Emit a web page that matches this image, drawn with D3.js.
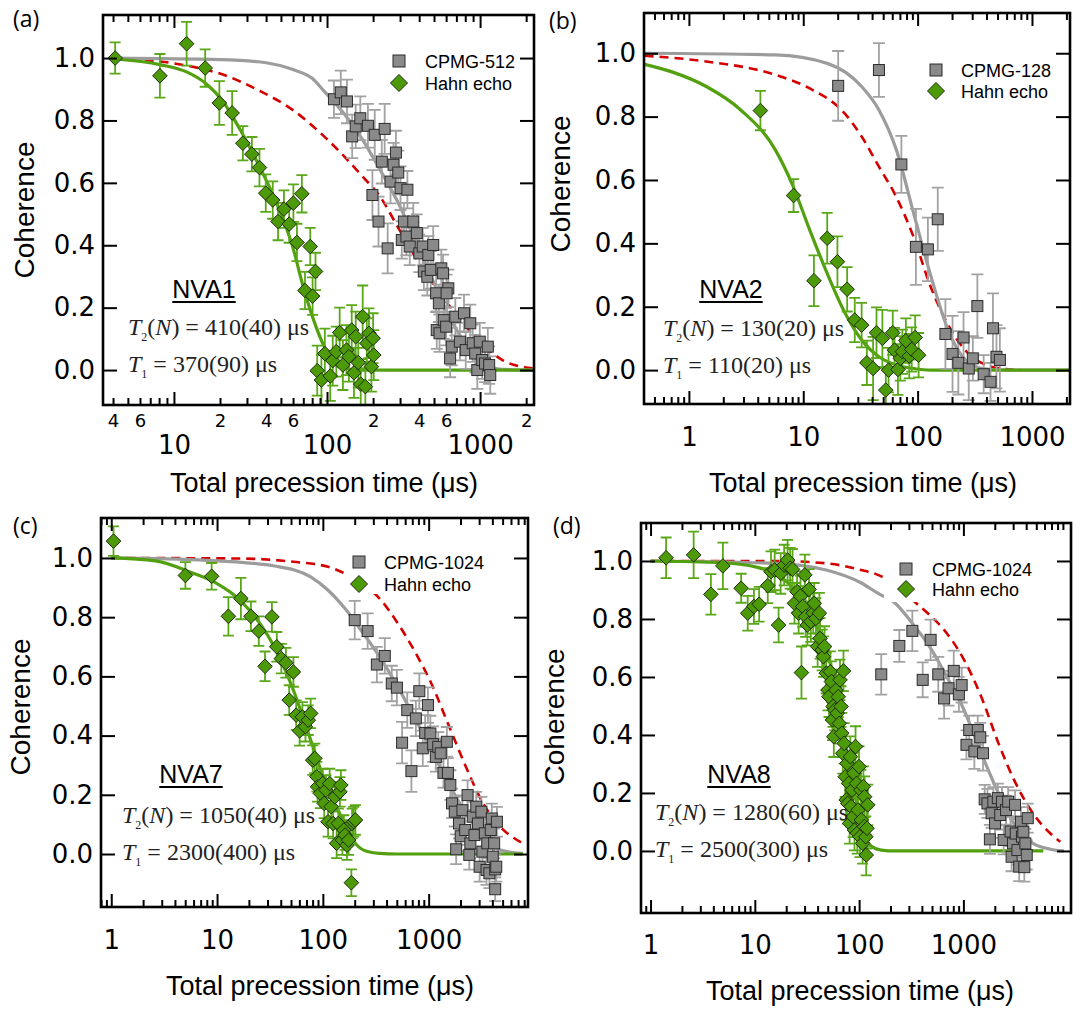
<!DOCTYPE html>
<html><head><meta charset="utf-8">
<script src="https://cdn.jsdelivr.net/npm/d3@7"></script>
<style>body{margin:0;background:#fff}svg{display:block}</style>
</head><body>
<svg id="fig" width="1073" height="1009"></svg>
<script>
// ---------- shared tick values ----------
const yTicks = [0, 0.2, 0.4, 0.6, 0.8, 1.0];
const xMajorA = [10, 100, 1000];
const xMinorLabelA = [4, 6, 20, 40, 60, 200, 400, 600, 2000];
const xMajorB = [1, 10, 100, 1000];
const xMajorC = [1, 10, 100, 1000];
const xMajorD = [1, 10, 100, 1000];

// ---------- panel (a) NVA1 : [t (us), coherence, error] ----------
const aHahn = [[4.13,1.0,0.05],[8.1,0.943,0.07],[12.1,1.046,0.07],[16.0,0.968,0.06],[19.8,0.856,0.07],[24.0,0.824,0.07],[28.2,0.727,0.055],[32.3,0.692,0.055],[36.2,0.649,0.06],[39.8,0.567,0.06],[44.2,0.545,0.06],[47.9,0.476,0.06],[52.3,0.516,0.06],[56.6,0.468,0.06],[60.3,0.535,0.06],[63.6,0.409,0.06],[68.5,0.565,0.06],[71.8,0.255,0.06],[77.7,0.396,0.06],[80.5,0.237,0.06],[84.1,0.316,0.06],
[86.3,-0.002,0.08],[91.9,-0.032,0.08],[96.8,0.053,0.08],[105,-0.019,0.08],[109,0.03,0.08],[115,0.059,0.08],[121,0.12,0.08],[127,0.016,0.08],[134,0.064,0.08],[139,0.043,0.08],[145,0.128,0.08],[150,-0.009,0.08],[154,0.107,0.08],[160,0.024,0.08],[166,-0.045,0.08],[171,0.171,0.1],[178,-0.053,0.08],[182,0.086,0.08],[188,0.118,0.08],[195,0.011,0.08],[200,0.102,0.08],[202,0.048,0.08]];
const aCpmg = [[111,0.868,0.06],[123,0.89,0.07],[135,0.861,0.07],[146,0.749,0.07],[154,0.781,0.07],[165,0.807,0.07],[185,0.783,0.07],[205,0.754,0.08],[238,0.773,0.08],[198,0.561,0.08],[217,0.476,0.08],[228,0.668,0.07],[249,0.39,0.08],[260,0.604,0.07],[272,0.658,0.07],[282,0.697,0.07],[292,0.633,0.07],[302,0.583,0.07],[335,0.578,0.06],[318,0.476,0.06],[308,0.417,0.06],[330,0.428,0.06],[347,0.396,0.06],[366,0.476,0.06],[386,0.439,0.06],[401,0.374,0.06],[422,0.396,0.06],[459,0.369,0.06],[494,0.401,0.06],[429,0.316,0.06],[452,0.299,0.06],[476,0.321,0.06],[516,0.246,0.06],[538,0.214,0.06],[558,0.326,0.06],[573,0.31,0.06],[620,0.262,0.06],[604,0.246,0.06],[521,0.128,0.06],[543,0.118,0.06],[579,0.16,0.06],[600,0.139,0.06],[637,0.037,0.06],[653,0.075,0.06],[689,0.171,0.06],[738,0.091,0.06],[785,0.182,0.06],[806,0.064,0.06],[863,0.15,0.06],[895,0.086,0.06],[929,0.053,0.06],[959,0.0,0.06],[995,0.091,0.06],[1032,0.032,0.06],[1077,0.021,0.06],[1123,0.075,0.06],[1146,0.016,0.06],[1165,-0.016,0.06]];
const aFitCpmg = [[4.1,1.0],[20,0.995],[40,0.985],[60,0.963],[80,0.935],[96,0.893],[131,0.818],[171,0.738],[222,0.642],[289,0.54],[376,0.417],[489,0.289],[637,0.166],[827,0.075],[1077,0.021],[1400,0.002],[2250,0]];
const aFitHahn = [[4.1,0.997],[8.1,0.979],[12.3,0.954],[16,0.92],[20.9,0.861],[27.1,0.77],[35.3,0.663],[45.9,0.545],[59.6,0.396],[69.9,0.267],[81.8,0.16],[95.9,0.075],[112,0.021],[131,0.005],[171,0],[2250,0]];
const aModel = [[4.1,0.997],[8.1,0.989],[13,0.973],[20.9,0.947],[35.3,0.898],[59.6,0.834],[101,0.738],[171,0.62],[222,0.556],[289,0.46],[376,0.364],[637,0.203],[1077,0.075],[1400,0.032],[2060,0.007],[2250,0.004]];

// ---------- panel (b) NVA2 ----------
const bHahn = [[4.22,0.819,0.062],[8.23,0.551,0.052],[12.4,0.282,0.08],[16.2,0.416,0.08],[19.9,0.342,0.08],[24.2,0.255,0.07],[28.2,0.158,0.07],[32.4,0.142,0.07],[36,0.023,0.07],[40.8,0.005,0.1],[43.7,0.118,0.08],[49.2,0.1,0.09],[52.7,-0.063,0.07],[55.7,0.0,0.07],[60.6,0.118,0.07],[62.8,0.063,0.07],[67.3,0.002,0.08],[70.6,0.037,0.07],[73.6,0.058,0.07],[78.9,0.093,0.07],[84.5,0.044,0.07],[88.8,0.065,0.07],[95.2,0.103,0.07],[102,0.047,0.07]];
const bCpmg = [[20.2,0.897,0.11],[45.9,0.947,0.085],[72.1,0.649,0.09],[96.6,0.389,0.12],[123,0.381,0.1],[150,0.476,0.1],[175,0.114,0.11],[202,0.051,0.12],[227,0.023,0.1],[252,0.103,0.08],[280,0.005,0.1],[304,0.037,0.07],[333,0.202,0.1],[378,-0.013,0.06],[434,-0.037,0.06],[456,0.132,0.11],[489,0.042,0.1],[524,0.032,0.1]];
const bFitCpmg = [[0.41,1.0],[5.7,0.995],[16.2,0.968],[32.4,0.895],[45.9,0.821],[65.2,0.695],[92.3,0.495],[131,0.295],[185,0.126],[262,0.032],[371,0.005],[600,0],[2150,0]];
const bFitHahn = [[0.41,0.965],[0.7,0.942],[1.42,0.895],[2.84,0.821],[5.7,0.695],[8.07,0.584],[11.4,0.442],[16.2,0.305],[22.9,0.184],[32.4,0.095],[45.9,0.042],[65,0.016],[92,0.005],[130,0],[2150,0]];
const bModel = [[0.41,0.992],[1.42,0.974],[5.7,0.932],[11.4,0.889],[22.9,0.811],[32.4,0.737],[45.9,0.642],[65,0.547],[92,0.421],[130,0.263],[185,0.142],[261,0.063],[370,0.021],[524,0.005],[800,0]];

// ---------- panel (c) NVA7 ----------
const cHahn = [[1.05,1.057,0.05],[5.02,0.941,0.045],[8.89,0.938,0.045],[12.8,0.803,0.065],[16.8,0.863,0.07],[20.9,0.803,0.05],[24.8,0.753,0.05],[28.4,0.634,0.05],[33,0.801,0.05],[36.7,0.7,0.05],[40.5,0.66,0.05],[44.7,0.646,0.05],[48.1,0.52,0.05],[52.7,0.615,0.05],[56,0.469,0.05],[60.3,0.416,0.05],[64,0.463,0.05],[68.5,0.43,0.05],[72.8,0.452,0.05],[76.7,0.475,0.05],[80.2,0.317,0.05],[83.9,0.323,0.05],[87.8,0.261,0.05],[89.1,0.227,0.05],[94.6,0.205,0.05],[99.8,0.238,0.05],[103,0.171,0.05],[107,0.216,0.05],[112,0.109,0.05],[116,0.238,0.05],[120,0.16,0.05],[125,0.103,0.05],[130,0.193,0.05],[135,0.036,0.05],[140,0.103,0.05],[145,0.21,0.05],[148,0.233,0.05],[153,0.047,0.05],[158,0.081,0.05],[162,0.064,0.05],[169,0.03,0.05],[175,0.047,0.05],[186,-0.097,0.045],[189,0.103,0.05],[196,0.109,0.05],[203,0.115,0.05]];
const cCpmg = [[200,0.79,0.065],[265,0.753,0.06],[324,0.64,0.06],[385,0.669,0.06],[448,0.576,0.06],[501,0.562,0.06],[561,0.376,0.07],[628,0.486,0.06],[687,0.28,0.07],[757,0.458,0.06],[816,0.55,0.06],[880,0.357,0.06],[927,0.409,0.06],[985,0.503,0.06],[1038,0.407,0.06],[1102,0.371,0.06],[1170,0.328,0.05],[1233,0.362,0.05],[1300,0.34,0.05],[1380,0.274,0.05],[1486,0.379,0.05],[1521,0.274,0.05],[1603,0.233,0.05],[1663,0.171,0.05],[1766,0.143,0.05],[1820,0.016,0.05],[1935,0.103,0.05],[2008,0.06,0.05],[2085,0.148,0.05],[2214,0.081,0.05],[2334,0.199,0.05],[2422,-0.003,0.05],[2478,0.036,0.05],[2612,0.126,0.05],[2710,0.064,0.05],[2818,0.16,0.05],[2924,0.103,0.05],[3034,-0.043,0.05],[3152,0.143,0.05],[3221,0.008,0.05],[3396,0.07,0.05],[3524,-0.054,0.05],[3580,0.036,0.05],[3748,-0.065,0.05],[3864,0.081,0.05],[3949,0.12,0.05],[4040,-0.009,0.05],[4160,0.036,0.05],[4254,-0.052,0.05],[4354,-0.043,0.05],[4418,0.109,0.05],[4254,-0.119,0.04]];
const cFitCpmg = [[1,1.0],[8.06,0.992],[36.2,0.972],[76.7,0.936],[112,0.891],[162,0.829],[236,0.75],[344,0.666],[501,0.57],[729,0.463],[1061,0.351],[1545,0.238],[2248,0.137],[3272,0.058],[4761,0.013],[7760,0.002]];
const cFitHahn = [[1,1.0],[2.61,0.99],[5.53,0.953],[9.36,0.919],[17.1,0.852],[24.8,0.784],[36.2,0.688],[52.7,0.553],[76.7,0.385],[112,0.216],[162,0.103],[203,0.036],[255,0.01],[344,0.002],[500,0],[7760,0]];
const cModel = [[1,1.0],[17,0.998],[52.7,0.987],[112,0.97],[162,0.947],[236,0.913],[344,0.863],[501,0.784],[729,0.688],[1061,0.576],[1545,0.435],[2248,0.295],[3272,0.171],[4761,0.092],[7760,0.036]];

// ---------- panel (d) NVA8 ----------
const dHahn = [[1.41,1.011,0.07],[2.59,1.021,0.08],[3.79,0.885,0.07],[4.94,0.983,0.08],[7.39,0.906,0.05],[8.55,0.82,0.06],[9.8,0.843,0.06],[11,0.851,0.06],[13.3,0.915,0.06],[14.3,0.963,0.07],[15.5,0.969,0.07],[16.9,0.779,0.06],[17.7,0.957,0.07],[19.1,0.986,0.07],[20.6,1.003,0.07],[21.8,0.975,0.07],[23,0.971,0.07],[24,0.854,0.07],[25.4,0.894,0.07],[26.3,0.82,0.07],[27.4,0.879,0.07],[28,0.615,0.09],[28.8,0.843,0.07],[30.2,0.952,0.07],[30.7,0.808,0.07],[31.9,0.779,0.07],[33.1,0.902,0.07],[34.4,0.791,0.07],[36.3,0.82,0.07],[37.1,0.854,0.07],[38.5,0.802,0.07],[40,0.705,0.07],[41.6,0.82,0.07],[42.2,0.733,0.07],[44.2,0.693,0.07],[45.5,0.67,0.07],[46.6,0.705,0.07],[48.4,0.613,0.07],[50.3,0.555,0.07],[51.4,0.532,0.07],[53,0.618,0.07],[54.2,0.584,0.07],[55.5,0.452,0.07],[56.3,0.498,0.07],[57.2,0.394,0.07],[58.5,0.486,0.07],[59.9,0.555,0.07],[61.7,0.475,0.07],[63.1,0.532,0.07],[64.6,0.44,0.07],[65.6,0.59,0.07],[67.1,0.498,0.07],[68.2,0.406,0.07],[69.7,0.337,0.07],[70.8,0.621,0.07],[71.9,0.371,0.07],[73.6,0.256,0.07],[75.2,0.176,0.07],[76.4,0.302,0.07],[77.6,0.164,0.07],[79.4,0.233,0.07],[81.1,0.095,0.07],[82.4,0.325,0.07],[83.7,0.153,0.07],[85.6,0.21,0.07],[87.6,0.118,0.07],[89,0.268,0.07],[90.3,0.072,0.07],[92.4,0.36,0.07],[94.6,0.233,0.07],[96,0.061,0.07],[97.5,0.141,0.07],[99.8,0.291,0.07],[102,0.049,0.07],[104,0.21,0.07],[105,0.107,0.07],[108,0.026,0.07],[110,0.222,0.07],[112,0.084,0.07],[113,0.187,0.07],[116,0.049,0.07],[117,-0.014,0.07],[119,0.078,0.07],[121,0.159,0.07]];
const dCpmg = [[163,0.609,0.07],[243,0.707,0.055],[324,0.759,0.07],[407,0.59,0.06],[485,0.728,0.07],[574,0.609,0.06],[653,0.526,0.07],[720,0.561,0.06],[808,0.621,0.07],[905,0.54,0.06],[962,0.572,0.06],[1070,0.366,0.05],[1137,0.417,0.05],[1274,0.343,0.06],[1374,0.417,0.05],[1451,0.392,0.05],[1542,0.337,0.06],[1600,0.178,0.05],[1701,0.164,0.05],[1795,0.04,0.05],[1865,0.13,0.05],[1937,0.17,0.05],[2012,0.095,0.05],[2138,0.182,0.05],[2255,0.124,0.05],[2342,0.17,0.05],[2432,0.038,0.05],[2565,0.141,0.05],[2686,0.17,0.05],[2833,0.067,0.05],[2899,-0.02,0.05],[2988,0.026,0.05],[3127,0.159,0.05],[3177,0.06,0.05],[3298,0.003,0.05],[3427,-0.054,0.05],[3558,0.101,0.05],[3641,0.049,0.05],[3757,0.066,0.05],[3839,-0.056,0.05],[3928,0.026,0.05],[4048,-0.014,0.05],[4142,0.113,0.05]];
const dFitCpmg = [[1,1.0],[15.5,0.992],[48.4,0.969],[104,0.925],[151,0.889],[222,0.854],[324,0.785],[474,0.705],[693,0.601],[1014,0.486],[1483,0.337],[2171,0.199],[3176,0.084],[4645,0.026],[6795,0.006],[9208,0]];
const dFitHahn = [[1,1.0],[4.94,0.994],[10.6,0.978],[15.5,0.957],[22.6,0.911],[33.1,0.82],[48.4,0.693],[60.8,0.555],[70.8,0.417],[82.4,0.279],[96,0.153],[112,0.061],[130,0.017],[163,0.003],[222,0],[5840,0]];
const dModel = [[1,1.0],[15.5,1.0],[48.4,0.992],[104,0.969],[151,0.952],[222,0.92],[324,0.866],[474,0.814],[693,0.751],[1014,0.659],[1483,0.532],[2171,0.371],[3176,0.233],[4645,0.13],[6795,0.061],[8500,0.032]];

// ---------- text ----------
const panelLetters = ["(a)", "(b)", "(c)", "(d)"];
const sampleNames = ["NVA1", "NVA2", "NVA7", "NVA8"];
const t2Values = ["410(40)", "130(20)", "1050(40)", "1280(60)"];
const t1Values = ["370(90)", "110(20)", "2300(400)", "2500(300)"];
const cpmgNames = ["CPMG-512", "CPMG-128", "CPMG-1024", "CPMG-1024"];
const hahnName = "Hahn echo";
const yTitle = "Coherence";
const xTitle = "Total precession time (\u03bcs)";

// ---------- layout ----------
const panels = [
  {id:0, x0:103, x1:534, y0:15, y1:405, xd:[3.44,2250], yd:[-0.112,1.138], major:xMajorA, minorLab:xMinorLabelA,
   hahn:aHahn, cpmg:aCpmg, fitC:aFitCpmg, fitH:aFitHahn, model:aModel,
   padB:31, yLabX:24, yLabY:210, xLabX:324, xLabY:492, letter:[13,27],
   leg:{sx:399, sy:61, dy:22, tx:425, bg:[388,47,134,50]}, nva:[204,298], form:[128,335,372]},
  {id:1, x0:644, x1:1070, y0:13, y1:404, xd:[0.405,2150], yd:[-0.107,1.127], major:xMajorB, minorLab:null,
   hahn:bHahn, cpmg:bCpmg, fitC:bFitCpmg, fitH:bFitHahn, model:bModel,
   padB:24, yLabX:560, yLabY:184, xLabX:863, xLabY:492, letter:[549,29],
   leg:{sx:936, sy:70, dy:21, tx:961, bg:[925,56,130,48]}, nva:[731,298], form:[663,336,373]},
  {id:2, x0:101, x1:528, y0:518, y1:907, xd:[0.80,8690], yd:[-0.179,1.135], major:xMajorC, minorLab:null,
   hahn:cHahn, cpmg:cCpmg, fitC:cFitCpmg, fitH:cFitHahn, model:cModel,
   padB:24, yLabX:20, yLabY:707, xLabX:320, xLabY:995, letter:[13,534],
   leg:{sx:359, sy:562, dy:22, tx:384, bg:[344,546,150,48]}, nva:[191,783], form:[122,823,860]},
  {id:3, x0:641, x1:1071, y0:523, y1:913, xd:[0.81,10760], yd:[-0.214,1.131], major:xMajorD, minorLab:null,
   hahn:dHahn, cpmg:dCpmg, fitC:dFitCpmg, fitH:dFitHahn, model:dModel,
   padB:23, yLabX:554, yLabY:717, xLabX:860, xLabY:1000, letter:[553,534],
   leg:{sx:906, sy:569, dy:20, tx:932, bg:[884,552,160,50]}, nva:[739,783], form:[655,820,857]}
];

const svg = d3.select("#fig");
const GREEN = "#4d9a08", GREEN_ERR = "#5aa818", GREEN_LINE = "#52a00f";
const GRAY = "#8a8a8a", GRAY_ERR = "#a2a2a2", GRAY_LINE = "#9c9c9c";
const RED = "#d40000";
const TICKFONT = "'DejaVu Sans', Verdana, sans-serif";
const SANS = "'Liberation Sans', Arial, Helvetica, sans-serif";
const SERIF = "'Liberation Serif', 'Times New Roman', serif";

function minorValues(dom) {
  const out = [];
  for (let e = Math.floor(Math.log10(dom[0])); e <= Math.ceil(Math.log10(dom[1])); e++) {
    for (let k = 2; k <= 9; k++) {
      const v = k * Math.pow(10, e);
      if (v >= dom[0] && v <= dom[1]) out.push(v);
    }
  }
  return out;
}
const diamond = r => `M0,${-r}L${r},0L0,${r}L${-r},0Z`;

panels.forEach((p, i) => {
  const g = svg.append("g");
  const x = d3.scaleLog().domain(p.xd).range([p.x0, p.x1]);
  const y = d3.scaleLinear().domain(p.yd).range([p.y1, p.y0]);

  svg.append("clipPath").attr("id", "clip" + i).append("rect")
    .attr("x", p.x0).attr("y", p.y0).attr("width", p.x1 - p.x0).attr("height", p.y1 - p.y0);
  const plot = g.append("g").attr("clip-path", `url(#clip${i})`);
  const line = d3.line().x(d => x(d[0])).y(d => y(d[1])).curve(d3.curveMonotoneX);

  plot.append("path").datum(p.model).attr("d", line).attr("fill", "none")
    .attr("stroke", RED).attr("stroke-width", 2.6).attr("stroke-dasharray", "9,6");
  plot.append("path").datum(p.fitC).attr("d", line).attr("fill", "none")
    .attr("stroke", GRAY_LINE).attr("stroke-width", 3.2);
  plot.append("path").datum(p.fitH).attr("d", line).attr("fill", "none")
    .attr("stroke", GREEN_LINE).attr("stroke-width", 3.2);

  // legend background
  g.append("rect").attr("x", p.leg.bg[0]).attr("y", p.leg.bg[1]).attr("width", p.leg.bg[2]).attr("height", p.leg.bg[3]).attr("fill", "#fff");

  function errorBars(data, color, cap) {
    const eg = plot.append("g").attr("stroke", color).attr("stroke-width", 1.8).attr("fill", "none");
    eg.selectAll("path").data(data).join("path").attr("d", d => {
      const xx = x(d[0]), ya = y(d[1] - d[2]), yb = y(d[1] + d[2]);
      return `M${xx},${ya}V${yb}M${xx - cap},${ya}H${xx + cap}M${xx - cap},${yb}H${xx + cap}`;
    });
  }
  errorBars(p.cpmg, GRAY_ERR, 6);
  plot.append("g").selectAll("rect").data(p.cpmg).join("rect")
    .attr("x", d => x(d[0]) - 5.5).attr("y", d => y(d[1]) - 5.5).attr("width", 11).attr("height", 11)
    .attr("fill", GRAY).attr("stroke", "#2b2b2b").attr("stroke-width", 1);
  errorBars(p.hahn, GREEN_ERR, 5.5);
  plot.append("g").selectAll("path").data(p.hahn).join("path")
    .attr("d", diamond(7.3)).attr("transform", d => `translate(${x(d[0])},${y(d[1])})`)
    .attr("fill", GREEN).attr("stroke", "#1e2a10").attr("stroke-width", 1);

  // axes
  const styleAxis = sel => { sel.select(".domain").remove(); sel.selectAll("line").attr("stroke", "#000").attr("stroke-width", 2); };
  const mins = minorValues(p.xd);
  g.append("g").attr("transform", `translate(0,${p.y1})`)
    .call(d3.axisBottom(x).tickValues(p.major).tickSize(-13).tickPadding(p.padB).tickFormat(d3.format("d")))
    .call(styleAxis).attr("font-family", TICKFONT).attr("font-size", 26);
  g.append("g").attr("transform", `translate(0,${p.y1})`)
    .call(d3.axisBottom(x).tickValues(mins).tickSize(-7).tickFormat(""))
    .call(styleAxis);
  if (p.minorLab) {
    g.append("g").attr("transform", `translate(0,${p.y1})`)
      .call(d3.axisBottom(x).tickValues(p.minorLab).tickSize(0).tickPadding(9).tickFormat(d => String(d).charAt(0)))
      .call(styleAxis).attr("font-family", TICKFONT).attr("font-size", 18);
  }
  g.append("g").attr("transform", `translate(0,${p.y0})`)
    .call(d3.axisTop(x).tickValues(p.major).tickSize(-13).tickFormat(""))
    .call(styleAxis);
  g.append("g").attr("transform", `translate(0,${p.y0})`)
    .call(d3.axisTop(x).tickValues(mins).tickSize(-7).tickFormat(""))
    .call(styleAxis);
  g.append("g").attr("transform", `translate(${p.x0},0)`)
    .call(d3.axisLeft(y).tickValues(yTicks).tickSize(-14).tickPadding(8).tickFormat(d3.format(".1f")))
    .call(styleAxis).attr("font-family", TICKFONT).attr("font-size", 26);
  g.append("g").attr("transform", `translate(${p.x1},0)`)
    .call(d3.axisRight(y).tickValues(yTicks).tickSize(-14).tickFormat(""))
    .call(styleAxis);
  g.selectAll(".tick text").attr("fill", "#000");

  g.append("rect").attr("x", p.x0).attr("y", p.y0).attr("width", p.x1 - p.x0).attr("height", p.y1 - p.y0)
    .attr("fill", "none").attr("stroke", "#000").attr("stroke-width", 2.6);

  // titles
  g.append("text").attr("x", p.xLabX).attr("y", p.xLabY).attr("text-anchor", "middle")
    .attr("font-family", SANS).attr("font-size", 27).text(xTitle);
  g.append("text").attr("transform", `translate(${p.yLabX},${p.yLabY}) rotate(-90)`)
    .attr("text-anchor", "middle").attr("dominant-baseline", "central")
    .attr("font-family", SANS).attr("font-size", 28).text(yTitle);
  g.append("text").attr("x", p.letter[0]).attr("y", p.letter[1])
    .attr("font-family", "'Open Sans', sans-serif").attr("font-size", 23).text(panelLetters[i]);

  // legend
  const L = p.leg;
  g.append("rect").attr("x", L.sx - 6).attr("y", L.sy - 6).attr("width", 12).attr("height", 12)
    .attr("fill", GRAY).attr("stroke", "#2b2b2b").attr("stroke-width", 1);
  g.append("path").attr("d", diamond(8.5)).attr("transform", `translate(${L.sx},${L.sy + L.dy})`)
    .attr("fill", GREEN).attr("stroke", "#1e2a10").attr("stroke-width", 1);
  g.append("text").attr("x", L.tx).attr("y", L.sy + 6.5).attr("font-family", SANS).attr("font-size", 18).text(cpmgNames[i]);
  g.append("text").attr("x", L.tx).attr("y", L.sy + L.dy + 6.5).attr("font-family", SANS).attr("font-size", 18).text(hahnName);

  // sample name (underlined)
  const nv = g.append("text").attr("x", p.nva[0]).attr("y", p.nva[1]).attr("text-anchor", "middle")
    .attr("font-family", SANS).attr("font-size", 25).text(sampleNames[i]);
  const bb = nv.node().getBBox();
  g.append("line").attr("x1", bb.x).attr("x2", bb.x + bb.width).attr("y1", p.nva[1] + 4).attr("y2", p.nva[1] + 4)
    .attr("stroke", "#000").attr("stroke-width", 2);

  // formulas
  const f1 = g.append("text").attr("x", p.form[0]).attr("y", p.form[1]).attr("font-family", SERIF).attr("font-size", 24).attr("fill", "#222");
  f1.append("tspan").attr("font-style", "italic").text("T");
  f1.append("tspan").attr("font-size", 12).attr("dy", 6).text("2");
  f1.append("tspan").attr("dy", -6).text("(");
  f1.append("tspan").attr("font-style", "italic").text("N");
  f1.append("tspan").text(") = " + t2Values[i]);
  f1.append("tspan").attr("dx", 6).text("\u03bcs");
  const f2 = g.append("text").attr("x", p.form[0]).attr("y", p.form[2]).attr("font-family", SERIF).attr("font-size", 24).attr("fill", "#222");
  f2.append("tspan").attr("font-style", "italic").text("T");
  f2.append("tspan").attr("font-size", 12).attr("dy", 6).text("1");
  f2.append("tspan").attr("dy", -6).text(" = " + t1Values[i]);
  f2.append("tspan").attr("dx", 6).text("\u03bcs");
});
</script>
</body></html>
